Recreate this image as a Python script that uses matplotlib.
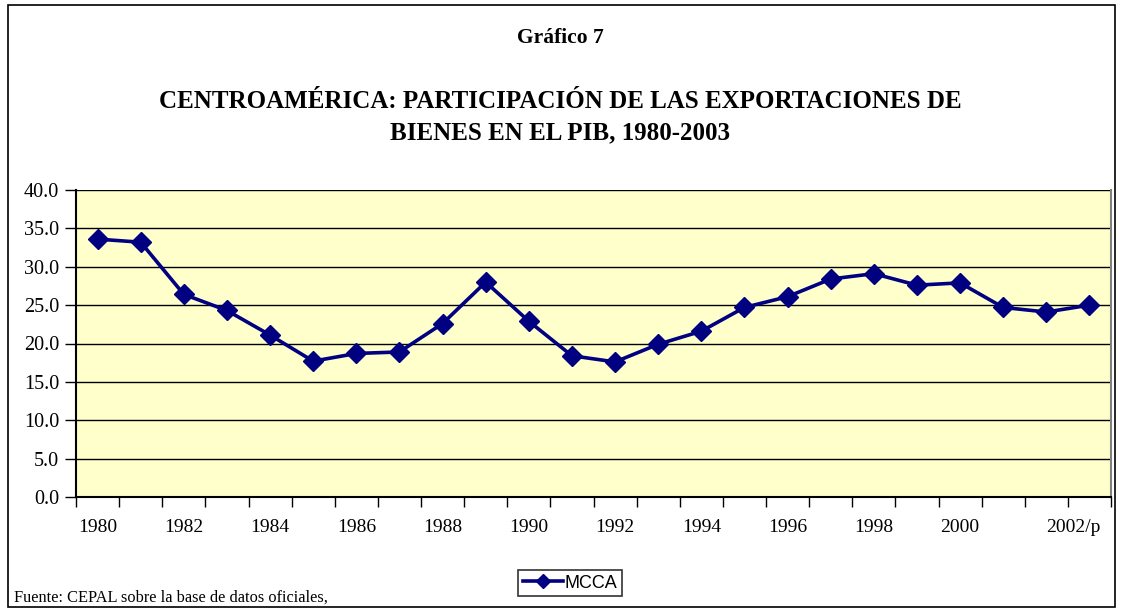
import matplotlib.pyplot as plt
import matplotlib.patches as mpatches
import numpy as np

years = list(range(1980, 2004))
mcca = [33.6, 33.2, 26.4, 24.3, 21.1, 17.7, 18.7, 18.9, 22.6, 28.0, 22.9, 18.4,
        17.6, 19.9, 21.6, 24.7, 26.1, 28.4, 29.1, 27.6, 27.9, 24.7, 24.1, 25.0]
label_years = list(range(1980, 2003, 2))
label_text = [str(y) for y in label_years[:-1]] + ['2002/p']
yticks = np.arange(0, 40.1, 5)

plt.rcParams['font.family'] = ['Liberation Serif', 'DejaVu Serif']

fig = plt.figure(figsize=(11.21, 6.12), dpi=100)
fig.patch.set_facecolor('white')
# marco exterior
fig.patches.append(mpatches.Rectangle((0.007, 0.008), 0.988, 0.984, transform=fig.transFigure,
                                      fill=False, edgecolor='black', linewidth=1.2))

ax = fig.add_axes([76 / 1121, 1 - 497 / 612, (1111 - 76) / 1121, (497 - 190) / 612])
ax.set_facecolor('#ffffcc')

x = np.arange(len(years))
ax.plot(x, mcca, color='#000080', linewidth=2.6, marker='D', markersize=10, label='MCCA')

ax.set_xlim(-0.5, len(years) - 0.5)
ax.set_ylim(0, 40)
ax.set_yticks(yticks)
ax.set_yticklabels([f'{v:.1f}' for v in yticks], fontsize=14.5)
ax.yaxis.grid(True, color='black', linewidth=1)
ax.set_axisbelow(True)

ax.set_xticks([years.index(y) for y in label_years])
ax.set_xticklabels(label_text, fontsize=14)
ax.set_xticks(np.arange(-0.5, len(years)), minor=True)
ax.tick_params(axis='x', which='major', length=0, pad=16)
ax.tick_params(axis='x', which='minor', length=7, direction='out', width=1)
ax.tick_params(axis='y', length=8, direction='out', width=1, pad=4)
last = ax.get_xticklabels()[-1]
last.set_horizontalalignment('left')

for s in ['left', 'bottom']:
    ax.spines[s].set_color('black')
    ax.spines[s].set_linewidth(1.5)
ax.spines['right'].set_color('#808080')
ax.spines['right'].set_linewidth(1.5)
ax.spines['top'].set_visible(False)

fig.text(0.5, 1 - 38 / 612, 'Gráfico 7', ha='center', va='center', fontsize=15.5, fontweight='bold')
fig.text(0.5, 1 - 102 / 612, 'CENTROAMÉRICA: PARTICIPACIÓN DE LAS EXPORTACIONES DE',
         ha='center', va='center', fontsize=18, fontweight='bold')
fig.text(0.5, 1 - 133 / 612, 'BIENES EN EL PIB, 1980-2003',
         ha='center', va='center', fontsize=18, fontweight='bold')
fig.text(14 / 1121, 1 - 598 / 612, 'Fuente: CEPAL sobre la base de datos oficiales,',
         ha='left', va='center', fontsize=11.8)

leg = fig.legend(loc='center', bbox_to_anchor=(570 / 1121, 1 - 583 / 612), frameon=True,
                 fancybox=False, edgecolor='black', prop={'family': 'Liberation Sans', 'size': 13},
                 handlelength=2.2, handletextpad=0.1, borderpad=0.25, markerscale=0.7)
leg.get_frame().set_linewidth(1.2)

fig.savefig('out.png', dpi=100)
